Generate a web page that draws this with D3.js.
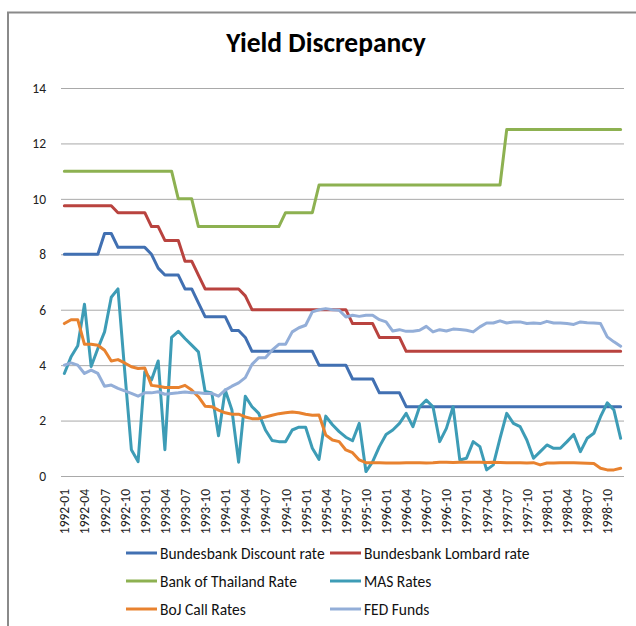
<!DOCTYPE html>
<html>
<head>
<meta charset="utf-8">
<script src="https://cdn.jsdelivr.net/npm/d3@7"></script>
<style>
  body { margin: 0; background: #fff; }
  svg { display: block; font-family: Carlito, Calibri, Lato, sans-serif; }
</style>
</head>
<body>
<div id="chart"></div>
<script>
// month categories 1992-01 .. 1998-12
let months = []
for (let yr = 1992; yr <= 1998; yr++) {
  for (let m = 1; m <= 12; m++) months.push(yr + "-" + (m < 10 ? "0" + m : m))
}
let tickMonths = months.filter((d, i) => i % 3 == 0)
let yTicks = [0, 2, 4, 6, 8, 10, 12, 14]

let discountRate = [8, 8, 8, 8, 8, 8, 8.75, 8.75, 8.25, 8.25, 8.25, 8.25, 8.25, 8, 7.5, 7.25, 7.25, 7.25,
  6.75, 6.75, 6.25, 5.75, 5.75, 5.75, 5.75, 5.25, 5.25, 5, 4.5, 4.5, 4.5, 4.5, 4.5, 4.5, 4.5, 4.5, 4.5, 4.5,
  4, 4, 4, 4, 4, 3.5, 3.5, 3.5, 3.5, 3, 3, 3, 3, 2.5, 2.5, 2.5, 2.5, 2.5, 2.5, 2.5, 2.5, 2.5, 2.5, 2.5, 2.5,
  2.5, 2.5, 2.5, 2.5, 2.5, 2.5, 2.5, 2.5, 2.5, 2.5, 2.5, 2.5, 2.5, 2.5, 2.5, 2.5, 2.5, 2.5, 2.5, 2.5, 2.5]

let lombardRate = [9.75, 9.75, 9.75, 9.75, 9.75, 9.75, 9.75, 9.75, 9.5, 9.5, 9.5, 9.5, 9.5, 9, 9, 8.5, 8.5, 8.5,
  7.75, 7.75, 7.25, 6.75, 6.75, 6.75, 6.75, 6.75, 6.75, 6.5, 6, 6, 6, 6, 6, 6, 6, 6, 6, 6,
  6, 6, 6, 6, 6, 5.5, 5.5, 5.5, 5.5, 5, 5, 5, 5, 4.5, 4.5, 4.5, 4.5, 4.5, 4.5, 4.5, 4.5, 4.5, 4.5, 4.5, 4.5,
  4.5, 4.5, 4.5, 4.5, 4.5, 4.5, 4.5, 4.5, 4.5, 4.5, 4.5, 4.5, 4.5, 4.5, 4.5, 4.5, 4.5, 4.5, 4.5, 4.5, 4.5]

let thailandRate = [11, 11, 11, 11, 11, 11, 11, 11, 11, 11, 11, 11, 11, 11, 11, 11, 11, 10, 10, 10,
  9, 9, 9, 9, 9, 9, 9, 9, 9, 9, 9, 9, 9, 9.5, 9.5, 9.5, 9.5, 9.5,
  10.5, 10.5, 10.5, 10.5, 10.5, 10.5, 10.5, 10.5, 10.5, 10.5, 10.5, 10.5, 10.5, 10.5, 10.5, 10.5, 10.5, 10.5,
  10.5, 10.5, 10.5, 10.5, 10.5, 10.5, 10.5, 10.5, 10.5, 10.5,
  12.5, 12.5, 12.5, 12.5, 12.5, 12.5, 12.5, 12.5, 12.5, 12.5, 12.5, 12.5, 12.5, 12.5, 12.5, 12.5, 12.5, 12.5]

let masRates = [3.7, 4.3, 4.7, 6.2, 3.95, 4.6, 5.2, 6.45, 6.75, 3.8, 0.95, 0.52, 3.76, 3.46, 4.15, 0.95, 5, 5.22,
  4.96, 4.72, 4.48, 3.05, 3, 1.45, 3.1, 2.38, 0.5, 2.88, 2.5, 2.26, 1.66, 1.28, 1.24, 1.24, 1.66, 1.76, 1.76, 1,
  0.6, 2.16, 1.85, 1.6, 1.4, 1.27, 1.9, 0.16, 0.52, 1.06, 1.5, 1.66, 1.9, 2.26, 1.78, 2.5, 2.74, 2.5, 1.24, 1.72,
  2.5, 0.58, 0.64, 1.24, 1.06, 0.22, 0.4, 1.36, 2.26, 1.9, 1.78, 1.3, 0.64, 0.88, 1.12, 1, 1, 1.24, 1.5, 0.88,
  1.36, 1.54, 2.14, 2.64, 2.38, 1.36]

let bojCallRates = [5.5, 5.64, 5.64, 4.75, 4.75, 4.72, 4.54, 4.15, 4.2, 4.08, 3.94, 3.88, 3.9, 3.27, 3.24, 3.19,
  3.19, 3.19, 3.27, 3.1, 2.86, 2.52, 2.5, 2.38, 2.28, 2.23, 2.23, 2.13, 2.07, 2.07, 2.13, 2.19, 2.25, 2.28, 2.31,
  2.28, 2.23, 2.19, 2.2, 1.48, 1.3, 1.24, 0.94, 0.84, 0.58, 0.48, 0.48, 0.48, 0.47, 0.47, 0.47, 0.48, 0.48, 0.48,
  0.47, 0.48, 0.5, 0.5, 0.49, 0.5, 0.5, 0.5, 0.5, 0.49, 0.5, 0.49, 0.48, 0.48, 0.48, 0.47, 0.48, 0.4, 0.47, 0.47,
  0.48, 0.48, 0.48, 0.47, 0.46, 0.45, 0.28, 0.22, 0.22, 0.28]

let fedFunds = [4, 4.08, 4, 3.7, 3.82, 3.7, 3.24, 3.28, 3.16, 3.07, 2.98, 2.88, 3, 3, 3.04, 2.95, 2.98, 3, 3.03,
  3, 3, 2.98, 2.98, 2.88, 3.1, 3.24, 3.36, 3.55, 4.03, 4.27, 4.27, 4.54, 4.75, 4.75, 5.2, 5.35, 5.44, 5.92, 6,
  6.04, 6, 5.98, 5.74, 5.8, 5.76, 5.8, 5.8, 5.64, 5.56, 5.23, 5.28, 5.22, 5.22, 5.26, 5.4, 5.2, 5.28, 5.23, 5.3,
  5.29, 5.26, 5.2, 5.38, 5.52, 5.52, 5.6, 5.52, 5.56, 5.56, 5.5, 5.52, 5.5, 5.58, 5.52, 5.52, 5.5, 5.47, 5.56,
  5.53, 5.52, 5.5, 5.02, 4.84, 4.68]

let seriesNames = ["Bundesbank Discount rate", "Bundesbank Lombard rate", "Bank of Thailand Rate",
  "MAS Rates", "BoJ Call Rates", "FED Funds"]
let seriesValues = [discountRate, lombardRate, thailandRate, masRates, bojCallRates, fedFunds]
let seriesColors = ["#4170b2", "#b9433f", "#8db151", "#3d9cb6", "#e8822f", "#93aed8"]

let width = 636, height = 626
let svg = d3.select("#chart").append("svg")
  .attr("width", width)
  .attr("height", height)

svg.append("rect").attr("width", width).attr("height", height).attr("fill", "#fff")

//chart frame (runs off the right and bottom of the picture)
svg.append("rect")
  .attr("x", 8).attr("y", 12.5)
  .attr("width", 700).attr("height", 700)
  .attr("fill", "none")
  .attr("stroke", "#8a8a8a")
  .attr("stroke-width", 2)

svg.append("text")
  .text("Yield Discrepancy")
  .attr("x", 326)
  .attr("y", 52)
  .style("text-anchor", "middle")
  .style("font-weight", "bold")
  .style("font-size", "27.5px")
  .attr("fill", "#000")

let plotLeft = 61, plotRight = 624, plotTop = 88, plotBottom = 476

let x = d3.scaleBand()
  .domain(months)
  .range([plotLeft, plotRight])

let y = d3.scaleLinear()
  .domain([0, 14])
  .range([plotBottom, plotTop])

//gridlines
svg.append("g")
  .attr("transform", "translate(" + plotLeft + ",0)")
  .call(d3.axisLeft(y).tickValues(yTicks).tickSize(-(plotRight - plotLeft)).tickFormat(""))
  .call(g => g.select(".domain").remove())
  .call(g => g.selectAll("line").attr("stroke", "#a9a9a9"))

//y axis labels
svg.append("g")
  .attr("transform", "translate(" + plotLeft + ",0)")
  .call(d3.axisLeft(y).tickValues(yTicks).tickSize(0).tickPadding(15))
  .call(g => g.select(".domain").remove())
  .call(g => g.selectAll("text")
    .style("font-family", "Carlito, Calibri, Lato, sans-serif")
    .style("font-size", "13.5px")
    .attr("fill", "#222"))

//x axis labels
svg.append("g")
  .attr("transform", "translate(0," + plotBottom + ")")
  .call(d3.axisBottom(x).tickValues(tickMonths).tickSize(0))
  .call(g => g.select(".domain").remove())
  .call(g => g.selectAll("text")
    .style("font-family", "Carlito, Calibri, Lato, sans-serif")
    .style("font-size", "13.5px")
    .attr("fill", "#222")
    .style("text-anchor", "end")
    .attr("dy", null)
    .attr("y", 0)
    .attr("transform", "translate(5,13) rotate(-90)"))

let line = d3.line()
  .x((d, i) => x(months[i]) + x.bandwidth() / 2)
  .y(d => y(d))

seriesValues.forEach((vals, k) => {
  svg.append("path")
    .datum(vals)
    .attr("d", line)
    .attr("fill", "none")
    .attr("stroke", seriesColors[k])
    .attr("stroke-width", 3)
    .attr("stroke-linejoin", "round")
    .attr("stroke-linecap", "round")
})

//legend
let legendX = [126, 330]
let legendY = [553, 581, 609]
seriesNames.forEach((name, k) => {
  let lx = legendX[k % 2]
  let ly = legendY[Math.floor(k / 2)]
  svg.append("line")
    .attr("x1", lx).attr("x2", lx + 31)
    .attr("y1", ly).attr("y2", ly)
    .attr("stroke", seriesColors[k])
    .attr("stroke-width", 3)
  svg.append("text")
    .text(name)
    .attr("x", lx + 34)
    .attr("y", ly + 5.5)
    .style("font-size", "15.5px")
    .attr("fill", "#111")
})
</script>
</body>
</html>
